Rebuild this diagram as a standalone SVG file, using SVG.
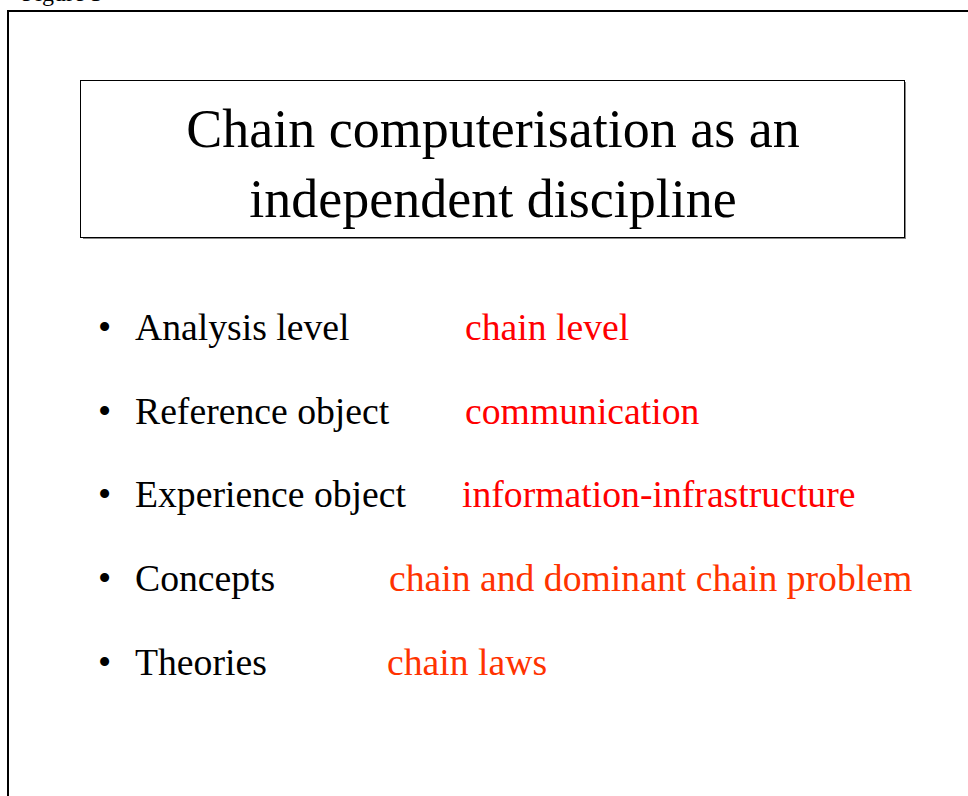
<svg xmlns="http://www.w3.org/2000/svg" width="968" height="796" viewBox="0 0 968 796">
  <style>
    .serif { font-family: "Liberation Serif", "Times New Roman", serif; }
    .title { font-size: 54px; fill: #000; text-anchor: middle; }
    .item { font-size: 37.7px; fill: #000; }
    .val1 { font-size: 37.7px; fill: #ff0000; }
    .val2 { font-size: 37.7px; fill: #ff3300; }
  </style>
  <rect width="968" height="796" fill="#fff"/>

  <!-- caption, mostly above the page edge -->
  <text class="serif" x="22" y="1" font-size="24" fill="#000">Figure 3</text>

  <!-- outer slide frame -->
  <g id="frame" fill="none" stroke="#000" stroke-width="2">
    <path d="M8 796 V11 H968"/>
  </g>

  <!-- title box -->
  <g id="title">
    <rect x="83" y="82" width="823" height="157" fill="#888"/>
    <rect x="80.5" y="80.5" width="824" height="157" fill="#fff" stroke="#000" stroke-width="1"/>
    <text class="serif title" x="493" y="147">Chain computerisation as an</text>
    <text class="serif title" x="493" y="217">independent discipline</text>
  </g>

  <!-- bullet rows -->
  <g id="row-analysis">
    <text class="serif item" x="98" y="340">•</text>
    <text class="serif item" x="135" y="340">Analysis level</text>
    <text class="serif val1" x="465" y="340">chain level</text>
  </g>
  <g id="row-reference">
    <text class="serif item" x="98" y="424">•</text>
    <text class="serif item" x="135" y="424">Reference object</text>
    <text class="serif val1" x="465" y="424">communication</text>
  </g>
  <g id="row-experience">
    <text class="serif item" x="98" y="507">•</text>
    <text class="serif item" x="135" y="507">Experience object</text>
    <text class="serif val1" x="462" y="507">information-infrastructure</text>
  </g>
  <g id="row-concepts">
    <text class="serif item" x="98" y="591">•</text>
    <text class="serif item" x="135" y="591">Concepts</text>
    <text class="serif val2" x="389" y="591">chain and dominant chain problem</text>
  </g>
  <g id="row-theories">
    <text class="serif item" x="98" y="675">•</text>
    <text class="serif item" x="135" y="675">Theories</text>
    <text class="serif val2" x="387" y="675">chain laws</text>
  </g>
</svg>
